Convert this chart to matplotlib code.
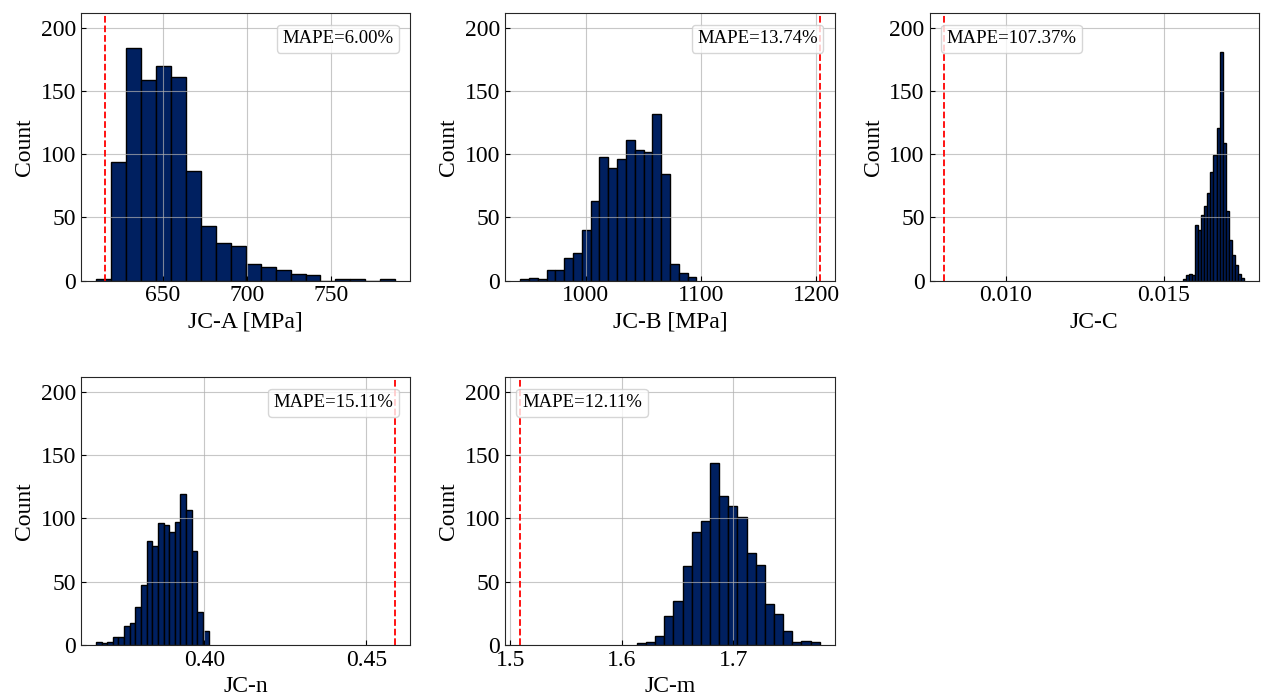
import numpy as np
import matplotlib
matplotlib.use("Agg")
import matplotlib.pyplot as plt
import matplotlib.patches as mpatches

plt.rcParams['font.family'] = ['Liberation Serif', 'DejaVu Serif']
plt.rcParams['xtick.direction'] = 'in'
plt.rcParams['ytick.direction'] = 'in'
plt.rcParams['axes.edgecolor'] = '#262626'

# histogram data (20 bins each, 1000 samples)
labels = ["JC-A [MPa]", "JC-B [MPa]", "JC-C", "JC-n", "JC-m"]
bin_lo = [610.4, 943.1, 0.015616, 0.3665, 1.6136]
bin_hi = [788.0, 1096.0, 0.017552, 0.40135, 1.7773]
counts_A = [1, 94, 184, 159, 170, 161, 87, 43, 30, 27, 13, 11, 8, 5, 4, 0, 1, 1, 0, 1]
counts_B = [1, 2, 1, 8, 8, 18, 22, 40, 63, 98, 89, 96, 111, 103, 102, 132, 84, 13, 6, 3]
counts_C = [1, 4, 5, 4, 44, 40, 52, 59, 69, 86, 99, 121, 181, 109, 55, 32, 20, 12, 5, 2]
counts_n = [2, 1, 2, 6, 6, 15, 17, 30, 47, 82, 78, 96, 95, 89, 97, 119, 107, 74, 26, 11]
counts_m = [1, 2, 7, 23, 35, 62, 89, 98, 144, 118, 110, 101, 73, 63, 32, 24, 11, 2, 3, 2]
true_vals = [615.9, 1203.0, 0.00805, 0.459, 1.509]
mape = ["MAPE=6.00%", "MAPE=13.74%", "MAPE=107.37%", "MAPE=15.11%", "MAPE=12.11%"]
box_loc = ["upper right", "upper right", "upper left", "upper right", "upper left"]

all_counts = [counts_A, counts_B, counts_C, counts_n, counts_m]
ymax = 1.15 * max(max(c) for c in all_counts)

fig, axes = plt.subplots(2, 3, figsize=(12.64, 7.0), dpi=100)
plt.subplots_adjust(left=0.064, right=0.996, top=0.981, bottom=0.079,
                    wspace=0.288, hspace=0.363)
axes = axes.flatten()

for i in range(5):
    ax = axes[i]
    edges = np.linspace(bin_lo[i], bin_hi[i], len(all_counts[i]) + 1)
    ax.hist(edges[:-1], bins=edges, weights=all_counts[i],
            color='#002060', edgecolor='black', linewidth=1.0)
    ax.axvline(true_vals[i], color='red', linestyle='--', linewidth=1.3)
    ax.set_ylim(0, ymax)
    ax.grid(True, color='#b0b0b0', alpha=0.7, linewidth=0.8)
    ax.set_xlabel(labels[i], fontsize=17)
    ax.set_ylabel("Count", fontsize=17)
    ax.tick_params(labelsize=17)
    h = mpatches.Patch(visible=False)
    ax.legend([h], [mape[i]], loc=box_loc[i], handlelength=0, handletextpad=0,
              fontsize=13.5, borderpad=0.3, borderaxespad=0.6)

axes[5].axis('off')

plt.savefig("out.png", dpi=100)
